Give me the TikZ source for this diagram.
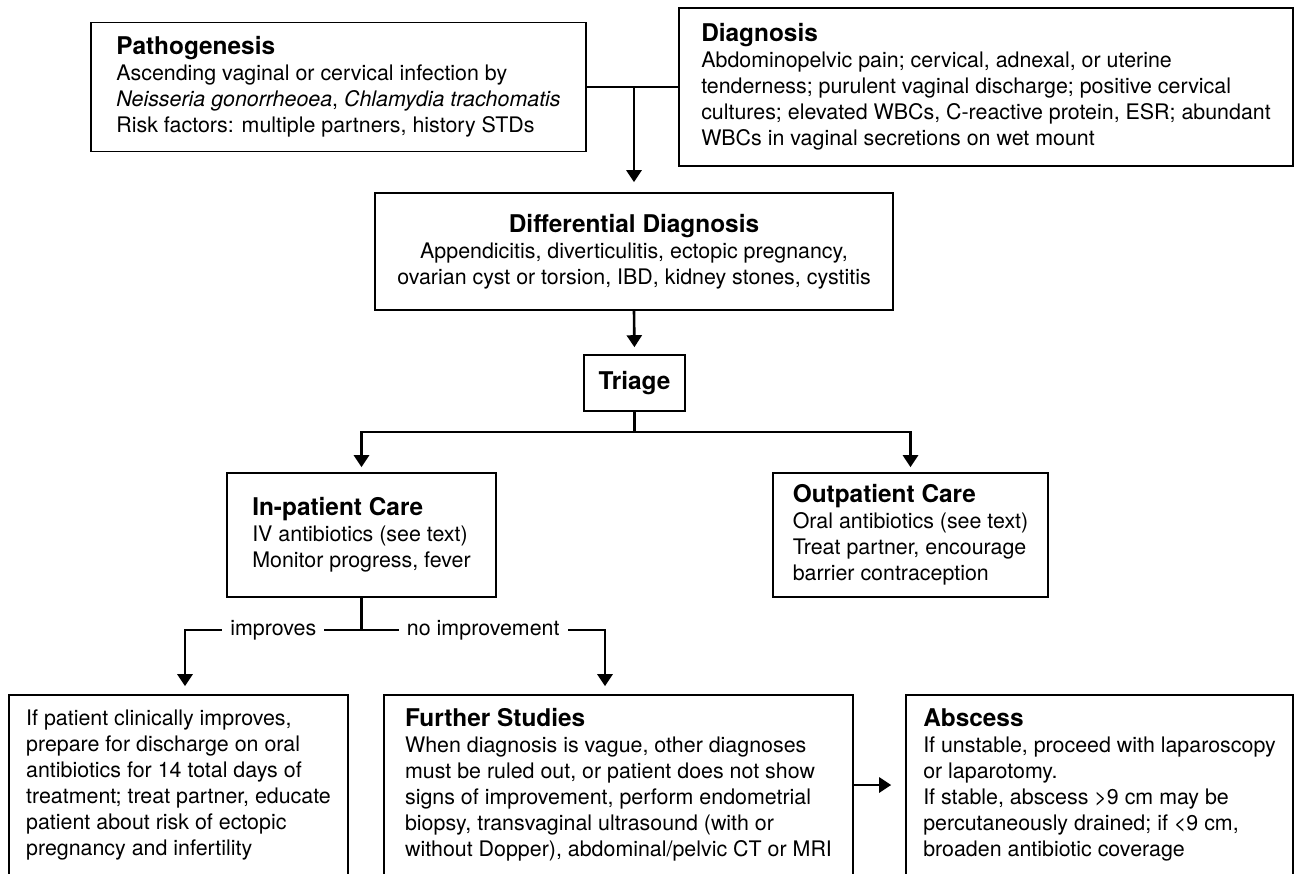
\documentclass[tikz,border=0pt]{standalone}
\usepackage{fontspec}
\setmainfont{TeX Gyre Heros}
\usetikzlibrary{arrows.meta}
\newcommand{\boxtitle}[1]{{\fontsize{12.2}{14}\selectfont\bfseries #1}}

\begin{document}
\begin{tikzpicture}[x=0.5pt,y=-0.5pt,
        box/.style={draw,line width=0.8pt,align=left,inner sep=0pt,font=\fontsize{10.7}{13}\selectfont},
        conn/.style={line width=1.3pt},
        arr/.style={conn,-{Triangle[length=6pt,width=7.5pt]},shorten >=3pt},
        lbl/.style={fill=white,inner xsep=4pt,inner ysep=1pt,font=\fontsize{10.7}{13}\selectfont}]
    \useasboundingbox (0,0) rectangle (1295,873);
    \clip (0,0) rectangle (1295,873);
    \node[box,minimum width=247.5pt,minimum height=64.5pt] (patho) at (338.5,87) {\boxtitle{Pathogenesis}\\Ascending vaginal or cervical infection by\\\textit{Neisseria gonorrheoea}, \textit{Chlamydia trachomatis}\\Risk factors: multiple partners, history STDs};
    \node[box,minimum width=307pt,minimum height=79pt] (diag) at (986,87) {\boxtitle{Diagnosis}\\Abdominopelvic pain; cervical, adnexal, or uterine\\tenderness; purulent vaginal discharge; positive cervical\\cultures; elevated WBCs, C-reactive protein, ESR; abundant\\WBCs in vaginal secretions on wet mount};
    \node[box,align=center,minimum width=259pt,minimum height=58.5pt] (diffdx) at (634,251.5) {\boxtitle{Differential Diagnosis}\\Appendicitis, diverticulitis, ectopic pregnancy,\\ovarian cyst or torsion, IBD, kidney stones, cystitis};
    \node[box,minimum width=50.5pt,minimum height=28pt] (triage) at (634.5,383) {\boxtitle{Triage}};
    \node[box,minimum width=134.5pt,minimum height=62pt] (inpat) at (361.5,535) {\boxtitle{In-patient Care}\\IV antibiotics (see text)\\Monitor progress, fever};
    \node[box,minimum width=137.5pt,minimum height=62pt] (outpat) at (910.5,535) {\boxtitle{Outpatient Care}\\Oral antibiotics (see text)\\Treat partner, encourage\\barrier contraception};
    \node[box,minimum width=169.5pt,minimum height=90pt] (discharge) at (178.5,785) {If patient clinically improves,\\prepare for discharge on oral\\antibiotics for 14 total days of\\treatment; treat partner, educate\\patient about risk of ectopic\\pregnancy and infertility};
    \node[box,minimum width=234.5pt,minimum height=90pt] (further) at (618.5,785) {\boxtitle{Further Studies}\\When diagnosis is vague, other diagnoses\\must be ruled out, or patient does not show\\signs of improvement, perform endometrial\\biopsy, transvaginal ultrasound (with or\\without Dopper), abdominal/pelvic CT or MRI};
    \node[box,minimum width=193.5pt,minimum height=90pt] (abscess) at (1099.5,785) {\boxtitle{Abscess}\\If unstable, proceed with laparoscopy\\or laparotomy.\\If stable, abscess >9 cm may be\\percutaneously drained; if <9 cm,\\broaden antibiotic coverage};
    \coordinate (impL) at (185,630);
    \coordinate (impR) at (605,630);
    \draw[conn] (patho.east) -- (diag.west);
    \draw[arr,shorten >=5pt] (diffdx.north |- patho.east) -- (diffdx.north);
    \draw[arr,shorten >=3.5pt] (diffdx.south) -- (triage.north);
    \draw[arr,shorten >=2.5pt] (triage.south) -- ++(0,20) -| (inpat.north);
    \draw[arr,shorten >=2.5pt] (triage.south) -- ++(0,20) -| (outpat.north);
    \draw[conn] (inpat.south) -- (inpat.south |- impL);
    \draw[arr,shorten >=4pt] (impL -| inpat.south) -- node[lbl] {improves} (impL) -- (impL |- discharge.north);
    \draw[arr,shorten >=4pt] (impL -| inpat.south) -- node[lbl] {no improvement} (impR) -- (impR |- further.north);
    \draw[arr,shorten >=7pt] (further.east) -- (abscess.west);
\end{tikzpicture}
\end{document}
